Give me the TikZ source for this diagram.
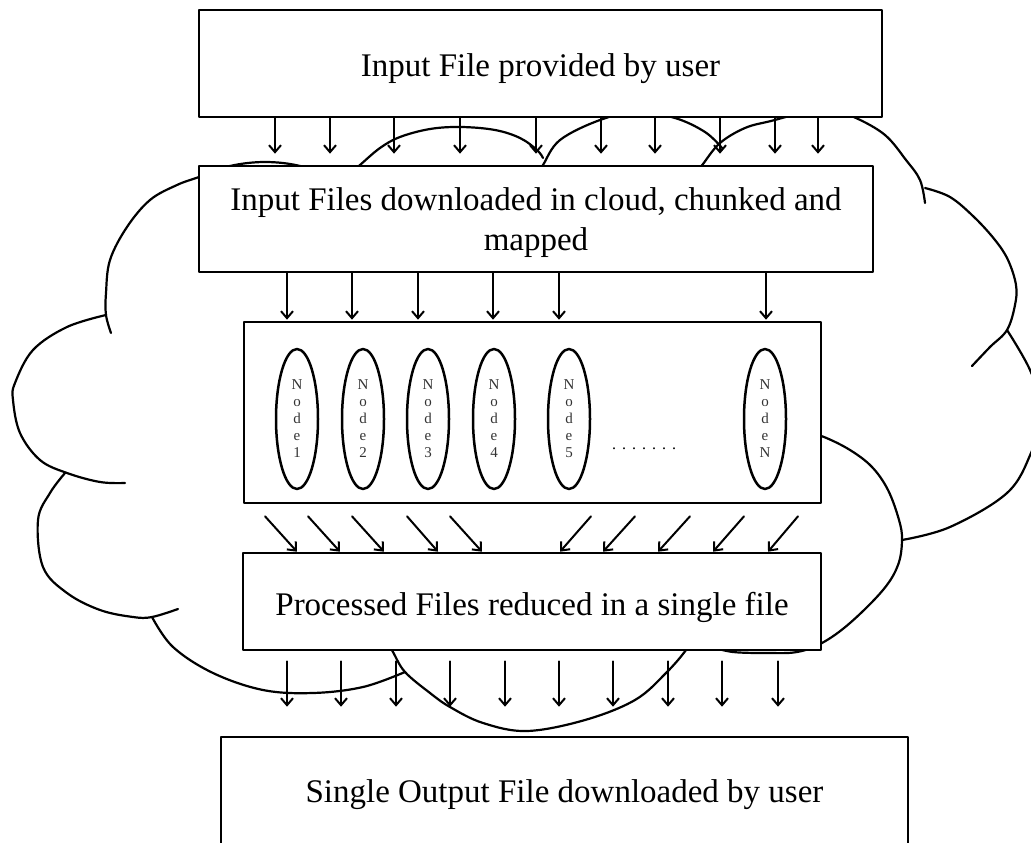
\documentclass[tikz,border=0pt]{standalone}
\usepackage{fontspec}
\setmainfont{Liberation Serif}
\usetikzlibrary{shapes.geometric,arrows.meta}

\begin{document}
\begin{tikzpicture}[x=1pt, y=-1pt, line join=round, line cap=round,
    box/.style={draw, fill=white, line width=2.6pt, inner sep=0pt, font=\fontsize{33}{40}\selectfont},
    worker/.style={draw, fill=white, ellipse, line width=2.5pt, minimum width=42pt, minimum height=140pt,
      inner sep=0pt, align=center, text=black!80, font=\fontsize{15}{17}\selectfont},
    flow/.style={line width=2pt, -{Straight Barb[length=7pt,width=12pt]}},
    cloudline/.style={line width=2.2pt}]
      \useasboundingbox (0,0) rectangle (1031,843);
      \clip (0,0) rectangle (1031,843);

      % cloud outline (drawn first, the boxes cover it)
      \draw[cloudline] plot[smooth, tension=0.6] coordinates {(111,333) (106,315) (106,293) (110,260) (127,227) (150,200) (177,185) (199,177) (230,166) (265,162) (300,166) (330,178)};
      \draw[cloudline] plot[smooth, tension=0.6] coordinates {(106,315) (67,327) (33,350) (15,383) (13,400) (20,433) (40,460) (67,473) (100,482) (125,483)};
      \draw[cloudline] plot[smooth, tension=0.6] coordinates {(65,473) (50,493) (38,520) (43,567) (67,593) (100,610) (133,617) (152,617) (178,609)};
      \draw[cloudline] plot[smooth, tension=0.6] coordinates {(152,617) (173,647) (213,673) (263,690) (313,693) (363,687) (405,672)};
      \draw[cloudline] plot[smooth, tension=0.6] coordinates {(385,638) (393,652) (405,672) (430,693) (450,707) (483,723) (527,731) (585,720) (635,700) (666,673) (686,650) (690,640)};
      \draw[cloudline] plot[smooth, tension=0.6] coordinates {(805,432) (824,437) (850,450) (872,467) (888,490) (899,520) (902,540) (898,565) (883,590) (850,623) (822,643) (797,652) (767,653) (733,652) (712,647)};
      \draw[cloudline] plot[smooth, tension=0.6] coordinates {(1007,330) (1030,370) (1043,412) (1031,453) (1007,493) (950,527) (902,540)};
      \draw[cloudline] plot[smooth, tension=0.6] coordinates {(925,188) (950,197) (974,217) (995,240) (1008,260) (1016,285) (1015,305) (1007,330) (990,347) (972,366)};
      \draw[cloudline] plot[smooth, tension=0.6] coordinates {(697,172) (703,164) (720,143) (745,128) (771,121) (805,113) (839,114) (856,118) (885,135) (906,160) (920,180) (925,203)};
      \draw[cloudline] plot[smooth, tension=0.6] coordinates {(538,172) (543,165) (560,140) (600,120) (637,112) (675,118) (705,132) (722,148)};
      \draw[cloudline] plot[smooth, tension=0.6] coordinates {(352,172) (360,165) (380,148) (400,137) (430,129) (461,127) (495,130) (520,138) (537,150) (543,158)};

      % boxes
      \node[box, minimum width=683pt, minimum height=107pt, text height=27pt, text depth=0pt] (input) at (540.5,63.5) {Input File provided by user};
      \node[box, align=center, minimum width=674pt, minimum height=106pt] (chunk) at (536,219) {\rule{0pt}{30pt}Input Files downloaded in cloud, chunked and\\mapped};
      \node[box, minimum width=577pt, minimum height=181pt] (nodes) at (532.5,412.5) {};
      \node[box, minimum width=578pt, minimum height=97pt, text height=27pt, text depth=0pt] (reduce) at (532,601.5) {Processed Files reduced in a single file};
      \node[box, minimum width=687pt, minimum height=116pt] (output) at (564.5,795) {Single Output File downloaded by user};

      % worker nodes
      \foreach \x/\n in {297/1,363/2,428/3,494/4,569/5,765/N}
        \node[worker] (w\n) at (\x,419) {N\\o\\d\\e\\\n};
      \node[inner sep=0pt, font=\fontsize{16}{17}\selectfont] (dots) at (644,449) {.\kern6pt.\kern6pt.\kern6pt.\kern6pt.\kern6pt.\kern6pt.};

      % arrows
      \foreach \x in {275,330,394,460,536,601,655,720,775,818}
        \draw[flow, shorten >=11pt] (input.south -| \x,0) -- (chunk.north -| \x,0);
      \foreach \x in {287,352,418,493,559,766}
        \draw[flow, shorten >=1pt] (chunk.south -| \x,0) -- (nodes.north -| \x,0);
      \foreach \a/\b in {265/297,308/340,352/384,407/438,450/482,591/560,635/603,690/658,744/713,798/768}
        \draw[flow] (nodes.south -| \a,0) ++(0,12) -- (reduce.north -| \b,0);
      \foreach \x in {287,341,396,450,505,559,613,668,722,778}
        \draw[flow, shorten <=10pt, shorten >=29pt] (reduce.south -| \x,0) -- (output.north -| \x,0);
\end{tikzpicture}
\end{document}
